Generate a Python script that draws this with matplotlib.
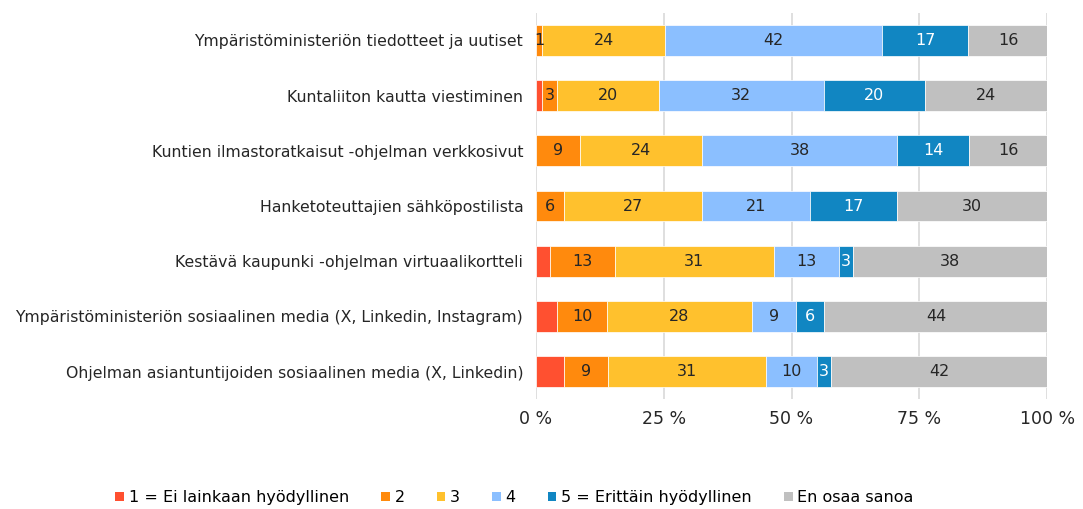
import matplotlib
matplotlib.use("Agg")
import matplotlib.pyplot as plt
from matplotlib.patches import Patch
import numpy as np

categories = [
    "Ympäristöministeriön tiedotteet ja uutiset",
    "Kuntaliiton kautta viestiminen",
    "Kuntien ilmastoratkaisut -ohjelman verkkosivut",
    "Hanketoteuttajien sähköpostilista",
    "Kestävä kaupunki -ohjelman virtuaalikortteli",
    "Ympäristöministeriön sosiaalinen media (X, Linkedin, Instagram)",
    "Ohjelman asiantuntijoiden sosiaalinen media (X, Linkedin)",
]
series_names = ["1 = Ei lainkaan hyödyllinen", "2", "3", "4",
                "5 = Erittäin hyödyllinen", "En osaa sanoa"]
s1 = [0.0, 1.3, 0.0, 0.0, 2.7, 4.2, 5.5]
s2 = [1.3, 2.9, 8.6, 5.6, 12.8, 9.8, 8.6]
s3 = [24.0, 19.8, 23.9, 26.9, 31.0, 28.2, 31.0]
s4 = [42.4, 32.3, 38.2, 21.1, 12.8, 8.6, 9.9]
s5 = [16.9, 19.8, 14.0, 17.0, 2.7, 5.6, 2.8]
s6 = [15.6, 23.9, 15.6, 29.5, 37.9, 43.7, 42.3]
xticks = [0, 25, 50, 75, 100]
xticklabels = ["0 %", "25 %", "50 %", "75 %", "100 %"]

colors = ["#FF5030", "#FF8A0D", "#FFC12D", "#8BBFFF", "#1186C2", "#C0C0C0"]
label_colors = [None, "#262626", "#262626", "#262626", "white", "#262626"]

plt.rcParams['font.family'] = ['DejaVu Sans']
fig = plt.figure(figsize=(10.83, 5.09), dpi=100)
ax = fig.add_axes([0.4947, 0.2155, 0.4723, 0.7595])

data = [s1, s2, s3, s4, s5, s6]
y = np.arange(len(categories))
left = np.zeros(len(categories))
for vals, col, lc, name in zip(data, colors, label_colors, series_names):
    vals = np.array(vals)
    ax.barh(y, vals, left=left, height=0.56, color=col, edgecolor="white",
            linewidth=0.5, label=name, zorder=3)
    if lc is not None:
        for yi, (l, v) in enumerate(zip(left, vals)):
            if v > 0:
                ax.text(l + v / 2, yi, f"{v:.0f}", ha="center", va="center",
                        fontsize=11.5, color=lc, zorder=4)
    left += vals

ax.set_ylim(len(categories) - 0.5, -0.5)
ax.set_xlim(0, 100)
ax.set_yticks(y)
ax.set_yticklabels(categories, fontsize=11.3, color="#262626")
ax.set_xticks(xticks)
ax.set_xticklabels(xticklabels, fontsize=12.5, color="#262626")
ax.tick_params(axis="both", length=0)
ax.tick_params(axis="y", pad=9)
ax.tick_params(axis="x", pad=8)
ax.grid(axis="x", color="#D9D9D9", linewidth=1.2, zorder=0)
for sp in ax.spines.values():
    sp.set_visible(False)

handles = [Patch(facecolor=c, edgecolor="none") for c in colors]
fig.legend(handles, series_names, loc="center", bbox_to_anchor=(0.475, 0.022),
           ncol=6, frameon=False, fontsize=11.5, handlelength=0.55,
           handleheight=0.55, handletextpad=0.3, columnspacing=2.0)

fig.savefig("out.png", dpi=100)
